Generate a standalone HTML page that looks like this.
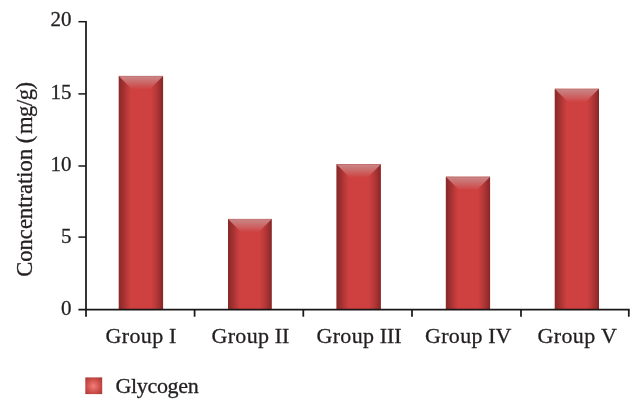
<!DOCTYPE html>
<html lang="en"><head><meta charset="utf-8"><title>Glycogen concentration</title>
<style>html,body{margin:0;padding:0;background:#fff}body{width:644px;height:411px;overflow:hidden}</style>
</head><body>
<svg width="644" height="411" viewBox="0 0 644 411" style="display:block">
<defs>
<linearGradient id="side" x1="0" x2="1" y1="0" y2="0">
<stop offset="0" stop-color="#882828"/>
<stop offset="0.1" stop-color="#a03030"/>
<stop offset="0.2" stop-color="#bd3a3a"/>
<stop offset="0.28" stop-color="#cf4141"/>
<stop offset="0.72" stop-color="#cf4141"/>
<stop offset="0.82" stop-color="#bd3a3a"/>
<stop offset="0.92" stop-color="#a03030"/>
<stop offset="1" stop-color="#862626"/>
</linearGradient>
<linearGradient id="top" x1="0" x2="0" y1="0" y2="1">
<stop offset="0" stop-color="#bf6f6f"/>
<stop offset="0.1" stop-color="#ca8282"/>
<stop offset="0.55" stop-color="#cc6565"/>
<stop offset="1" stop-color="#cf4343"/>
</linearGradient>
<radialGradient id="leg" cx="0.48" cy="0.52" r="0.72">
<stop offset="0" stop-color="#f47d7a"/>
<stop offset="0.6" stop-color="#c94a45"/>
<stop offset="1" stop-color="#a03636"/>
</radialGradient>
</defs>
<rect width="644" height="411" fill="#ffffff"/>
<rect x="118.7" y="75.9" width="44.4" height="233.7" fill="url(#side)"/>
<polygon points="118.7,75.9 163.1,75.9 150.1,88.9 131.7,88.9" fill="url(#top)"/>
<rect x="228.0" y="218.9" width="43.8" height="90.7" fill="url(#side)"/>
<polygon points="228.0,218.9 271.8,218.9 258.8,231.9 241.0,231.9" fill="url(#top)"/>
<rect x="336.4" y="164.2" width="44.5" height="145.4" fill="url(#side)"/>
<polygon points="336.4,164.2 380.9,164.2 367.9,177.2 349.4,177.2" fill="url(#top)"/>
<rect x="445.8" y="176.7" width="44.3" height="132.9" fill="url(#side)"/>
<polygon points="445.8,176.7 490.1,176.7 477.1,189.7 458.8,189.7" fill="url(#top)"/>
<rect x="554.7" y="88.8" width="44.3" height="220.8" fill="url(#side)"/>
<polygon points="554.7,88.8 599.0,88.8 586.0,101.8 567.7,101.8" fill="url(#top)"/>
<g stroke="#1a1718" stroke-width="1.75" fill="none">
<path d="M86.0 20.95 V316.7"/>
<path d="M78.4 309.6 H629.65"/>
<path stroke-width="1.5" d="M78.4 237.1 H85.8"/>
<path stroke-width="1.5" d="M78.4 166.0 H85.8"/>
<path stroke-width="1.5" d="M78.4 93.9 H85.8"/>
<path stroke-width="1.5" d="M78.4 21.7 H85.8"/>
<path d="M194.6 309.6 V316.7"/>
<path d="M303.3 309.6 V316.7"/>
<path d="M412.0 309.6 V316.7"/>
<path d="M521.0 309.6 V316.7"/>
<path d="M628.8 309.6 V316.7"/>
</g>
<g font-family="'Liberation Serif', serif" font-size="21" fill="#231f20" stroke="#231f20" stroke-width="0.3">
<text x="71.6" y="314.6" text-anchor="end">0</text>
<text x="71.6" y="242.6" text-anchor="end">5</text>
<text x="71.6" y="170.5" text-anchor="end">10</text>
<text x="71.6" y="98.5" text-anchor="end">15</text>
<text x="71.6" y="26.4" text-anchor="end">20</text>
<text font-size="22" x="105.6" y="342.6"><tspan letter-spacing="0.35">Group</tspan> <tspan x="168.9">I</tspan></text>
<text font-size="22" x="211.4" y="342.6"><tspan letter-spacing="0.35">Group</tspan> <tspan x="274.7">II</tspan></text>
<text font-size="22" x="316.4" y="342.6"><tspan letter-spacing="0.35">Group</tspan> <tspan x="379.7">III</tspan></text>
<text font-size="22" x="424.9" y="342.6"><tspan letter-spacing="0.35">Group</tspan> <tspan x="488.2">IV</tspan></text>
<text font-size="22" x="537.6" y="342.6"><tspan letter-spacing="0.35">Group</tspan> <tspan x="600.9">V</tspan></text>
<text font-size="22" x="115.5" y="392.5" textLength="83.2" lengthAdjust="spacing">Glycogen</text>
</g>
<g font-family="'Liberation Serif', serif" font-size="22.6" fill="#231f20" stroke="#231f20" stroke-width="0.3">
<text transform="translate(31.6 276.8) rotate(-90)">Concentration (<tspan dx="1.6" letter-spacing="-0.48">mg/g)</tspan></text>
</g>
<rect x="85.3" y="377.4" width="16.9" height="16.7" fill="url(#leg)"/>
</svg>
</body></html>
